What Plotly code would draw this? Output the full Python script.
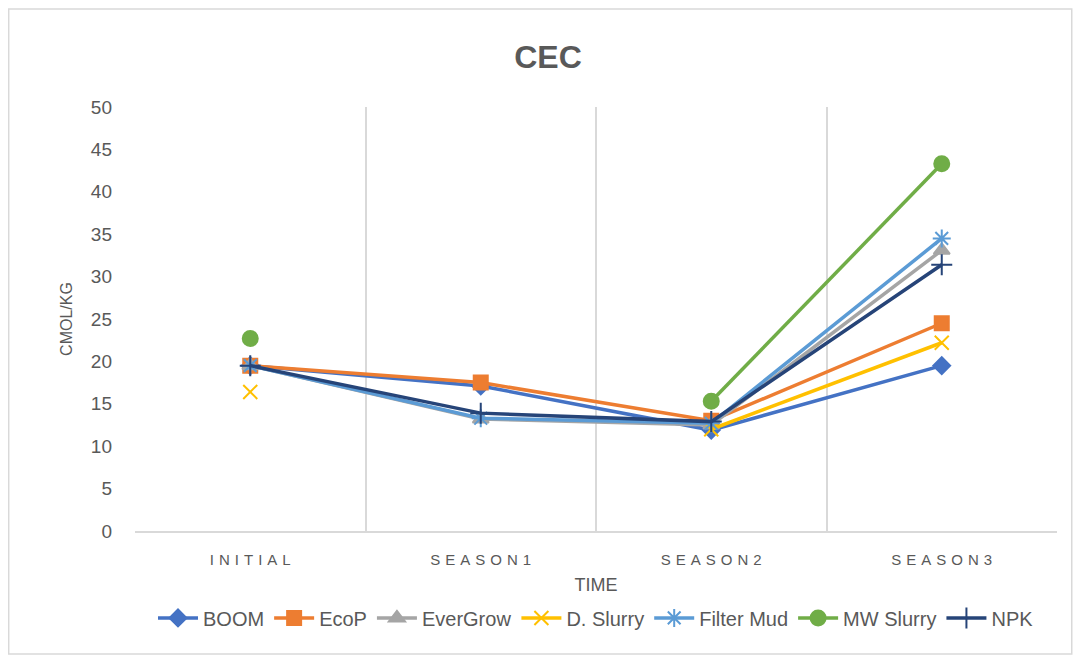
import plotly.graph_objects as go

# categories
seasons = ["INITIAL", "SEASON1", "SEASON2", "SEASON3"]
season_labels = ["\u2004".join(s) for s in seasons]

# CEC values (cmol/kg), None = missing
boom = [19.5, 17.1, 11.9, 19.5]
ecop = [19.5, 17.5, 13.0, 24.5]
evergrow = [19.5, 13.2, 12.5, 33.1]
d_slurry = [16.4, None, 12.0, 22.2]
filter_mud = [19.5, 13.3, 12.7, 34.5]
mw_slurry = [22.7, None, 15.3, 43.3]
npk = [19.5, 13.9, 12.9, 31.4]

series = [
    ("BOOM", boom, "#4472C4", "diamond", 13),
    ("EcoP", ecop, "#ED7D31", "square", 14),
    ("EverGrow", evergrow, "#A5A5A5", "triangle-up", 14),
    ("D. Slurry", d_slurry, "#FFC000", "x-thin-open", 14),
    ("Filter Mud", filter_mud, "#5B9BD5", "asterisk-open", 15),
    ("MW Slurry", mw_slurry, "#70AD47", "circle", 15),
    ("NPK", npk, "#264478", "cross-thin-open", 15),
]

FONT = "Liberation Sans"
GREY = "#595959"

fig = go.Figure()
for name, vals, col, sym, size in series:
    fig.add_trace(go.Scatter(
        x=seasons, y=vals, name=name, mode="lines+markers",
        line=dict(color=col, width=3.5),
        marker=dict(symbol=sym, size=size, color=col,
                    line=dict(color=col, width=2)),
        connectgaps=False,
    ))

fig.update_layout(
    width=1065, height=647,
    paper_bgcolor="white", plot_bgcolor="white",
    margin=dict(l=127, r=16, t=99, b=124),
    font=dict(family=FONT, color=GREY),
    title=dict(text="<b>CEC</b>", x=0.507, xanchor="center", y=0.925,
               yanchor="middle", font=dict(size=32, color=GREY)),
    legend=dict(orientation="h", x=0.5, xanchor="center", y=-0.205,
                yanchor="middle", font=dict(size=20, color=GREY),
                itemwidth=40, tracegroupgap=0),
    xaxis=dict(
        type="category", range=[-0.5, 3.5],
        tickmode="array", tickvals=seasons, ticktext=season_labels,
        tickson="boundaries", ticks="", ticklabelstandoff=14,
        showgrid=True, gridcolor="#D9D9D9", gridwidth=1.5,
        showline=True, linecolor="#D9D9D9", linewidth=1.5,
        tickfont=dict(size=15, color=GREY),
        title=dict(text="TIME", font=dict(size=18, color=GREY), standoff=12),
    ),
    yaxis=dict(
        range=[0, 50], dtick=5, showgrid=False, zeroline=False,
        showline=False, ticks="", ticklabelstandoff=22,
        tickfont=dict(size=19, color=GREY),
        title=dict(text="CMOL/KG", font=dict(size=16, color=GREY), standoff=14),
    ),
    shapes=[dict(type="rect", xref="paper", yref="paper",
                 x0=-0.137, x1=1.016, y0=-0.29, y1=1.231,
                 line=dict(color="#D9D9D9", width=1.5), layer="below")],
)

fig.write_html("out.html")
